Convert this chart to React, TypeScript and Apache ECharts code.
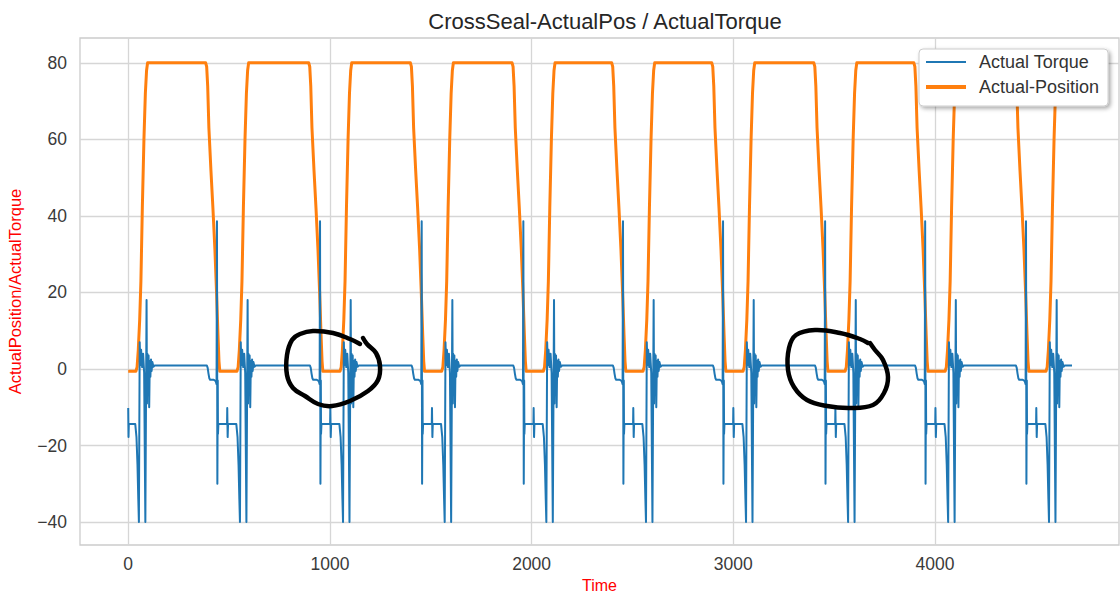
import React, { useEffect, useRef } from "react";
import * as echarts from "echarts";

const chartTitle = "CrossSeal-ActualPos / ActualTorque";
const xName = "Time";
const yName = "ActualPosition/ActualTorque";
const seriesNames = ["Actual Torque", "Actual-Position"];
const xTicks = [0, 1000, 2000, 3000, 4000];
const yTicks = [-40, -20, 0, 20, 40, 60, 80];

// cycle timing (time units)
const riseStarts = [38, 539, 1050, 1554, 2058, 2552, 3048, 3554, 4050, 4550];
const fallStarts = [384, 895, 1399, 1903, 2397, 2893, 3399, 3895, 4395];
const endTime = 4679;

// torque: beginning of record
const torqueStartOffsets = [0, 1.5, 3];
const torqueStartValues = [-10.2, -17.8, -14.4];
// torque around each rise of the position (offset from rise start)
const torqueRiseOffsets = [-3, 3, 8, 12, 15, 17, 19, 22, 26, 31, 36, 41, 47, 50, 53, 55, 57, 60, 63, 66, 69, 72, 75, 78, 82, 87, 93];
const torqueRiseValues = [-14.4, -17.8, -25, -34, -40, -40, 7, 1, 5, 0.5, 4, -1, -40, -40, 18, -9, 4, -4, 3.5, -10, 2, -2, 2.5, -0.5, 1.8, 0.6, 0.9];
// torque around each fall of the position (offset from fall start)
const torqueFallOffsets = [6, 10, 14, 18, 22, 40, 50, 54, 56, 58, 60, 61, 63, 106, 107, 109, 111];
const torqueFallValues = [0.9, 0.3, -1.2, -2.4, -2.8, -2.8, -3.2, -4, 38.6, -30, -3, -17, -14.4, -14.4, -10.2, -17.8, -14.4];
const torqueEndValue = 0.9;

// position
const posStartValue = -0.6;
const posRiseOffsets = [0, 6, 12, 19, 25, 32, 40, 47, 53, 58];
const posRiseValues = [-0.6, 0.5, 5, 13, 23, 42, 60, 72, 78, 80];
const posFallOffsets = [0, 5, 10, 16, 26, 36, 46, 54, 61, 66, 70];
const posFallValues = [80, 79, 74, 63, 52, 42, 31, 20, 9, 2, -0.6];
const posEndValue = 80;

// hand-drawn annotation loops (screen pixels)
const loop1 = [[363, 338], [367, 344], [376, 353], [380, 366], [378, 380], [368, 391], [350, 401], [332, 406], [318, 404], [305, 396], [293, 388], [287, 375], [287, 355], [292, 340], [300, 334], [313, 331], [333, 333], [350, 339], [360, 344]];
const loop2 = [[870, 343], [875, 350], [883, 360], [888, 377], [884, 393], [873, 405], [850, 408], [827, 406], [807, 400], [794, 387], [788, 370], [789, 348], [796, 335], [815, 330], [840, 333], [860, 339], [868, 343]];

function buildTorque(): number[][] {
  const out: number[][] = [];
  torqueStartOffsets.forEach((o, i) => out.push([o, torqueStartValues[i]]));
  riseStarts.forEach((r, k) => {
    torqueRiseOffsets.forEach((o, i) => out.push([r + o, torqueRiseValues[i]]));
    if (k < fallStarts.length) {
      const f = fallStarts[k];
      torqueFallOffsets.forEach((o, i) => out.push([f + o, torqueFallValues[i]]));
    } else {
      out.push([endTime, torqueEndValue]);
    }
  });
  return out;
}

function buildPosition(): number[][] {
  const out: number[][] = [[0, posStartValue]];
  riseStarts.forEach((r, k) => {
    posRiseOffsets.forEach((o, i) => out.push([r + o, posRiseValues[i]]));
    if (k < fallStarts.length) {
      const f = fallStarts[k];
      posFallOffsets.forEach((o, i) => out.push([f + o, posFallValues[i]]));
    } else {
      out.push([endTime, posEndValue]);
    }
  });
  return out;
}

const FONT = "'Liberation Sans', Arial, sans-serif";

export default function App() {
  const ref = useRef<HTMLDivElement>(null);
  useEffect(() => {
    if (!ref.current) return;
    const chart = echarts.init(ref.current, undefined, { renderer: "svg" });
    const gridLine = { show: true, lineStyle: { color: "#d6d6d6", width: 1.3 } };
    const fmt = (v: number) => (v < 0 ? "\u2212" + Math.abs(v) : String(v));
    chart.setOption({
      animation: false,
      backgroundColor: "#ffffff",
      textStyle: { fontFamily: FONT },
      title: {
        text: chartTitle,
        left: 600,
        textAlign: "center",
        top: 5,
        textStyle: { fontSize: 22, fontWeight: "normal", color: "#262626", fontFamily: FONT },
      },
      legend: {
        orient: "vertical",
        left: 919,
        top: 49,
        padding: [4, 9, 10, 7],
        itemGap: 7,
        itemWidth: 40,
        itemHeight: 14,
        backgroundColor: "#ffffff",
        borderColor: "#cccccc",
        borderWidth: 1,
        borderRadius: 4,
        shadowBlur: 4,
        shadowColor: "rgba(0,0,0,0.35)",
        shadowOffsetX: 2,
        shadowOffsetY: 2,
        textStyle: { fontSize: 18, color: "#333333", fontFamily: FONT, lineHeight: 18, padding: [0, 0, 0, 8] },
        data: [
          { name: seriesNames[0], icon: "path://M0,0H40V2H0Z" },
          { name: seriesNames[1], icon: "path://M0,0H40V4H0Z" },
        ],
      },
      grid: { left: 80, right: 1, top: 38, bottom: 51, show: true, borderColor: "#cccccc", borderWidth: 1.3, containLabel: false, outerBoundsMode: "none" },
      xAxis: {
        type: "value",
        min: -239,
        max: 4912,
        splitNumber: 5,
        name: xName,
        nameLocation: "middle",
        nameGap: 31,
        nameTextStyle: { color: "#ff0000", fontSize: 16, fontFamily: FONT },
        axisLine: { show: false },
        axisTick: { show: false, customValues: xTicks },
        axisLabel: { customValues: xTicks, fontSize: 17.5, color: "#3a3a3a", margin: 10, fontFamily: FONT, formatter: fmt },
        splitLine: gridLine,
      },
      yAxis: {
        type: "value",
        min: -46,
        max: 86.5,
        splitNumber: 7,
        name: yName,
        nameLocation: "middle",
        nameGap: 57,
        nameTextStyle: { color: "#ff0000", fontSize: 16.5, fontFamily: FONT },
        axisLine: { show: false },
        axisTick: { show: false, customValues: yTicks },
        axisLabel: { customValues: yTicks, fontSize: 17.5, color: "#3a3a3a", margin: 13, fontFamily: FONT, formatter: fmt },
        splitLine: gridLine,
      },
      series: [
        {
          name: seriesNames[0],
          type: "line",
          data: buildTorque(),
          symbol: "none",
          showSymbol: false,
          z: 3,
          color: "#1f77b4",
          lineStyle: { color: "#1f77b4", width: 2, join: "round" },
        },
        {
          name: seriesNames[1],
          type: "line",
          data: buildPosition(),
          symbol: "none",
          showSymbol: false,
          z: 2,
          color: "#ff7f0e",
          lineStyle: { color: "#ff7f0e", width: 3, join: "round" },
        },
      ],
      graphic: [loop1, loop2].map((pts) => ({
        type: "polyline",
        z: 100,
        shape: { points: pts, smooth: 0.4 },
        style: { stroke: "#000000", lineWidth: 4.5, fill: "none", lineJoin: "round", lineCap: "round" },
      })),
    });
    return () => chart.dispose();
  }, []);
  return <div ref={ref} style={{ position: "fixed", left: 0, top: 0, width: 1120, height: 596 }} />;
}
